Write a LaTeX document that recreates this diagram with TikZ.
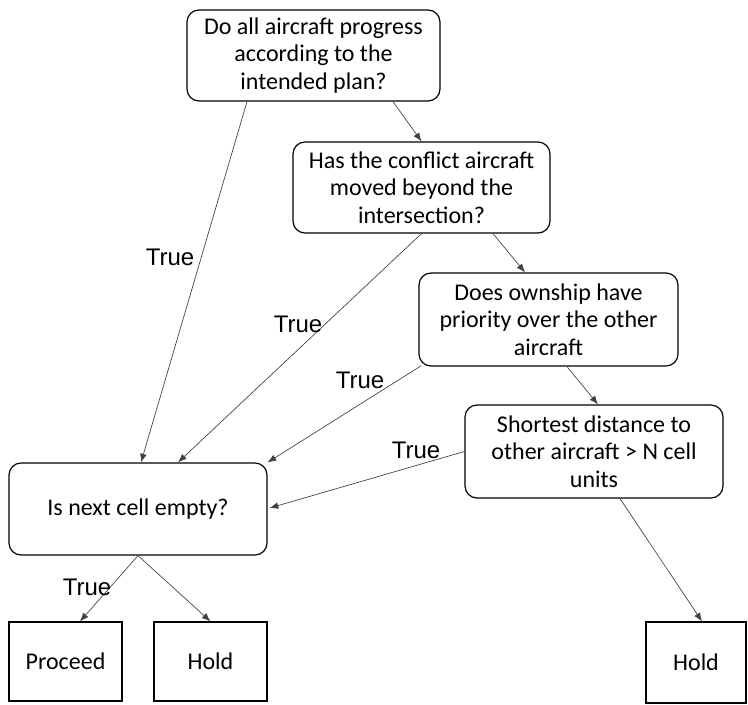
\documentclass[tikz,border=0pt]{standalone}
\usepackage{fontspec}
\setmainfont{Carlito}
\newfontfamily\arialfont{Liberation Sans}
\usetikzlibrary{arrows.meta,calc}
\begin{document}
\begin{tikzpicture}[x=0.75pt,y=-0.75pt,
  qbox/.style={draw=black,line width=0.9pt,rounded corners=9pt,align=center,inner sep=0pt,
    font=\fontsize{18}{20.5}\selectfont},
  endbox/.style={draw=black,line width=0.9pt,align=center,inner sep=0pt,
    font=\fontsize{18}{20.5}\selectfont},
  conn/.style={draw=black!75,line width=0.5pt,-{Latex[length=6.5pt,width=5pt]}},
  truelbl/.style={font=\arialfont\fontsize{18}{20}\selectfont,inner sep=0pt}]
\useasboundingbox (0,0) rectangle (748,704);
\node[qbox,minimum width=253*0.75pt,minimum height=91*0.75pt] (b1) at (313.5,55.5)
  {Do all aircraft progress\\according to the\\intended plan?};
\node[qbox,minimum width=257*0.75pt,minimum height=91*0.75pt] (b2) at (421.5,187.5)
  {Has the conflict aircraft\\moved beyond the\\intersection?};
\node[qbox,minimum width=259*0.75pt,minimum height=93*0.75pt] (b3) at (548.5,319.5)
  {Does ownship have\\priority over the other\\aircraft};
\node[qbox,minimum width=258*0.75pt,minimum height=93*0.75pt] (b4) at (594,451.5)
  {Shortest distance to\\other aircraft > N cell\\units};
\node[qbox,minimum width=258*0.75pt,minimum height=92*0.75pt] (b5) at (138,509)
  {Is next cell empty?};
\node[endbox,minimum width=113*0.75pt,minimum height=79*0.75pt] (p) at (65.5,661.5) {Proceed};
\node[endbox,minimum width=113*0.75pt,minimum height=79*0.75pt] (h1) at (210.5,661.5) {Hold};
\node[endbox,minimum width=100*0.75pt,minimum height=81*0.75pt] (h2) at (696,662.5) {Hold};
\draw[conn] ($(b1.south)+(-66.5,0)$) -- ($(b5.north)+(3,0)$);
\draw[conn] ($(b1.south)+(79.5,0)$) -- (b2.north);
\draw[conn] (b2.south) -- ($(b5.north)+(40,0)$);
\draw[conn] ($(b2.south)+(71.5,0)$) -- ($(b3.north)+(-23.5,0)$);
\draw[conn] ($(b3.south west)+(3,-1)$) -- (b5.north east);
\draw[conn] ($(b3.south)+(18.5,0)$) -- ($(b4.north)+(4,0)$);
\draw[conn] (b4.west) -- ($(b5.east)+(2,-1)$);
\draw[conn] ($(b4.south)+(26,0)$) -- ($(h2.north)+(6,0)$);
\draw[conn] (b5.south) -- ($(p.north)+(14.5,0)$);
\draw[conn] (b5.south) -- (h1.north);
\node[truelbl] (t1) at (170,257) {True};
\node[truelbl] (t2) at (298,324) {True};
\node[truelbl] (t3) at (360,380) {True};
\node[truelbl] (t4) at (416,450) {True};
\node[truelbl] (t5) at (87,587) {True};
\end{tikzpicture}
\end{document}
